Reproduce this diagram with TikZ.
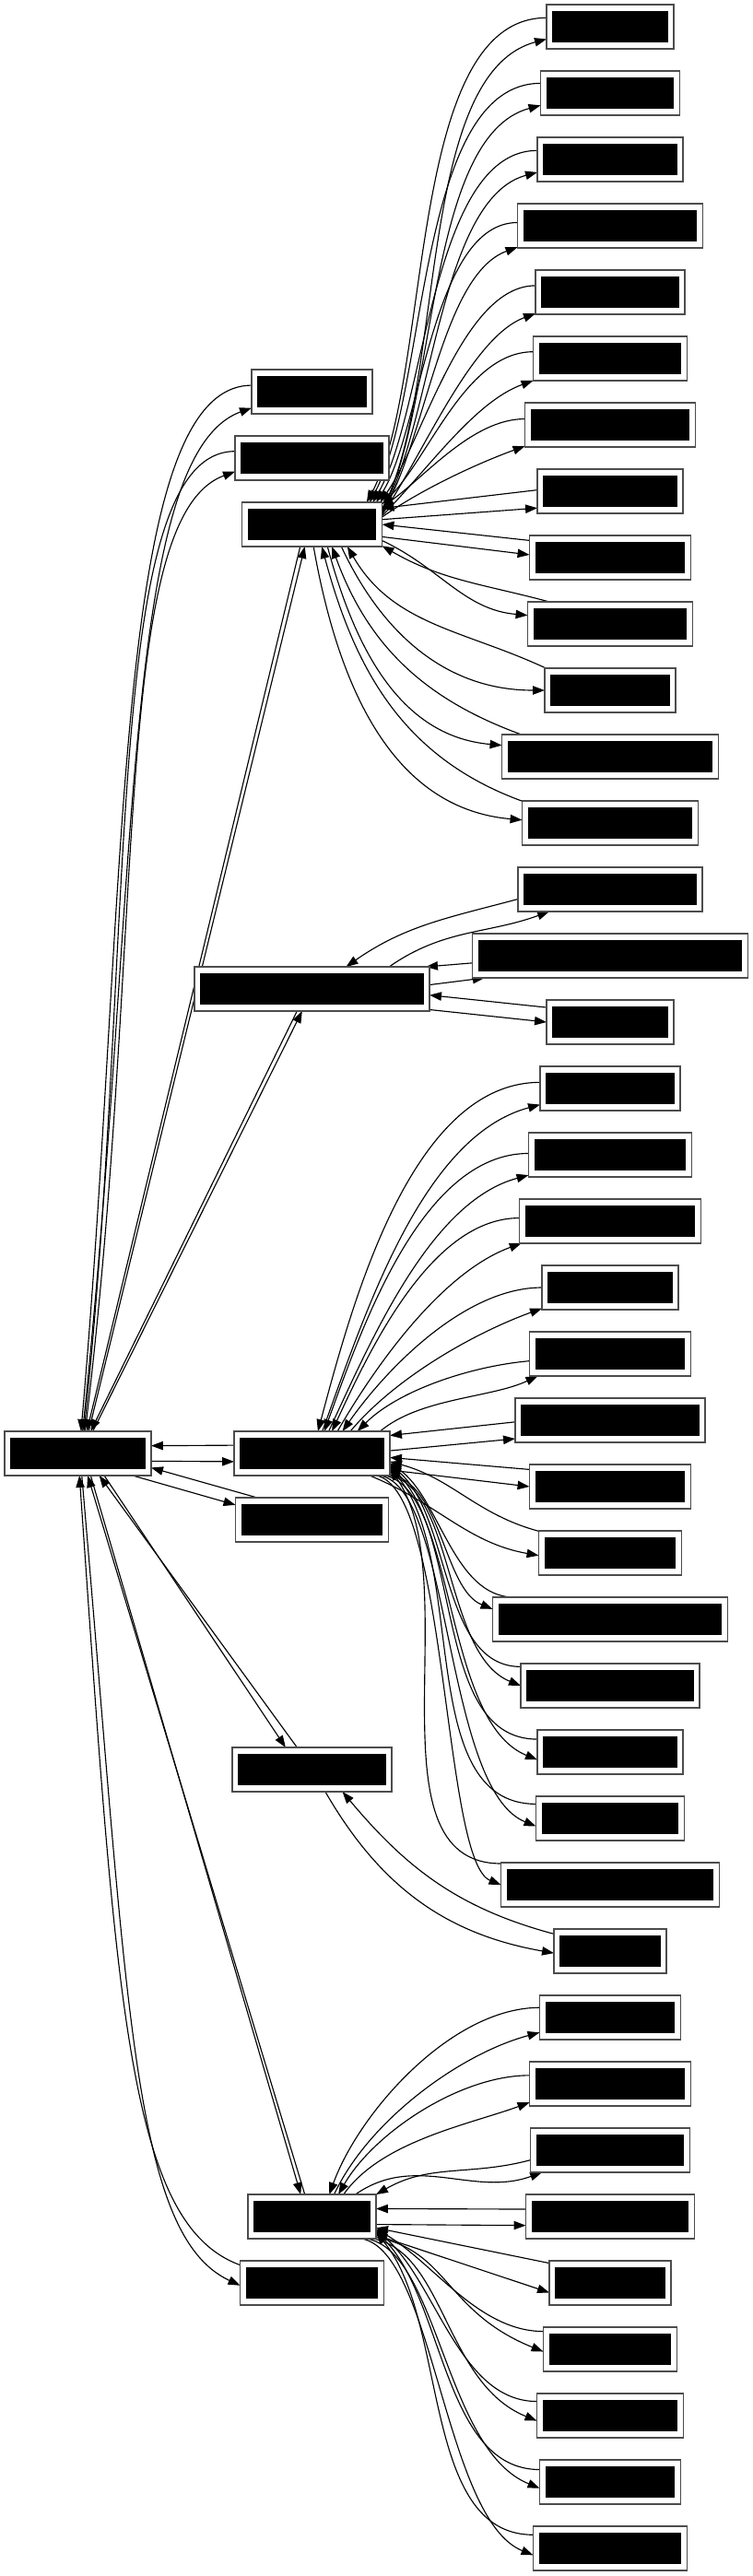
\documentclass[tikz,border=0pt]{standalone}
\usetikzlibrary{arrows.meta}
\tikzset{
    ITEM_BOX/.style={shape=rectangle, draw=black!70, line width=0.55pt,
        fill=white, minimum height=0.66667cm, inner sep=0mm, outer sep=0mm,
        path picture={\fill[black]
            ([shift={(0.09cm,-0.1cm)}]path picture bounding box.north west) rectangle
            ([shift={(-0.09cm,0.1cm)}]path picture bounding box.south east);}},
    EDGE/.style={draw=black, line width=0.45pt,
        -{Triangle[length=1.8mm, width=1.3mm]}}
}
\pgfdeclarelayer{edgelayer}
\pgfdeclarelayer{nodelayer}
\pgfsetlayers{edgelayer,nodelayer,main}
\begin{document}
\begin{tikzpicture}
    \useasboundingbox (0,0) rectangle (11.33333,-38.81944);
    \begin{pgfonlayer}{nodelayer}
        \node [ITEM_BOX, minimum width=2.20833cm] (1) at (1.17361, -21.90278) {};
        \node [ITEM_BOX, minimum width=1.81944cm] (2) at (4.70139, -5.90278) {};
        \node [ITEM_BOX, minimum width=2.31944cm] (3) at (4.70139, -6.90278) {};
        \node [ITEM_BOX, minimum width=2.11111cm] (4) at (4.70139, -7.90278) {};
        \node [ITEM_BOX, minimum width=3.54167cm] (5) at (4.70139, -14.90278) {};
        \node [ITEM_BOX, minimum width=2.34722cm] (6) at (4.70139, -21.90278) {};
        \node [ITEM_BOX, minimum width=2.30556cm] (7) at (4.70139, -22.90278) {};
        \node [ITEM_BOX, minimum width=2.40278cm] (8) at (4.70139, -26.66667) {};
        \node [ITEM_BOX, minimum width=1.93056cm] (9) at (4.70139, -33.40278) {};
        \node [ITEM_BOX, minimum width=2.16667cm] (10) at (4.70139, -34.40278) {};
        \node [ITEM_BOX, minimum width=1.91667cm] (11) at (9.19444, -0.40278) {};
        \node [ITEM_BOX, minimum width=2.09722cm] (12) at (9.19444, -1.40278) {};
        \node [ITEM_BOX, minimum width=2.19444cm] (13) at (9.19444, -2.40278) {};
        \node [ITEM_BOX, minimum width=2.79167cm] (14) at (9.19444, -3.40278) {};
        \node [ITEM_BOX, minimum width=2.25000cm] (15) at (9.19444, -4.40278) {};
        \node [ITEM_BOX, minimum width=2.31944cm] (16) at (9.19444, -5.40278) {};
        \node [ITEM_BOX, minimum width=2.56944cm] (17) at (9.19444, -6.40278) {};
        \node [ITEM_BOX, minimum width=2.19444cm] (18) at (9.19444, -7.40278) {};
        \node [ITEM_BOX, minimum width=2.43056cm] (19) at (9.19444, -8.40278) {};
        \node [ITEM_BOX, minimum width=2.48611cm] (20) at (9.19444, -9.40278) {};
        \node [ITEM_BOX, minimum width=1.97222cm] (21) at (9.19444, -10.40278) {};
        \node [ITEM_BOX, minimum width=3.26389cm] (22) at (9.19444, -11.40278) {};
        \node [ITEM_BOX, minimum width=2.65278cm] (23) at (9.19444, -12.40278) {};
        \node [ITEM_BOX, minimum width=2.77778cm] (24) at (9.19444, -13.40278) {};
        \node [ITEM_BOX, minimum width=4.15278cm] (25) at (9.19444, -14.40278) {};
        \node [ITEM_BOX, minimum width=1.91667cm] (26) at (9.19444, -15.40278) {};
        \node [ITEM_BOX, minimum width=2.11111cm] (27) at (9.19444, -16.40278) {};
        \node [ITEM_BOX, minimum width=2.45833cm] (28) at (9.19444, -17.40278) {};
        \node [ITEM_BOX, minimum width=2.73611cm] (29) at (9.19444, -18.40278) {};
        \node [ITEM_BOX, minimum width=2.05556cm] (30) at (9.19444, -19.40278) {};
        \node [ITEM_BOX, minimum width=2.43056cm] (31) at (9.19444, -20.40278) {};
        \node [ITEM_BOX, minimum width=2.86111cm] (32) at (9.19444, -21.40278) {};
        \node [ITEM_BOX, minimum width=2.43056cm] (33) at (9.19444, -22.40278) {};
        \node [ITEM_BOX, minimum width=2.15278cm] (34) at (9.19444, -23.40278) {};
        \node [ITEM_BOX, minimum width=3.54167cm] (35) at (9.19444, -24.40278) {};
        \node [ITEM_BOX, minimum width=2.69444cm] (36) at (9.19444, -25.40278) {};
        \node [ITEM_BOX, minimum width=2.19444cm] (37) at (9.19444, -26.40278) {};
        \node [ITEM_BOX, minimum width=2.23611cm] (38) at (9.19444, -27.40278) {};
        \node [ITEM_BOX, minimum width=3.29167cm] (39) at (9.19444, -28.40278) {};
        \node [ITEM_BOX, minimum width=1.69444cm] (40) at (9.19444, -29.40278) {};
        \node [ITEM_BOX, minimum width=2.12500cm] (41) at (9.19444, -30.40278) {};
        \node [ITEM_BOX, minimum width=2.43056cm] (42) at (9.19444, -31.40278) {};
        \node [ITEM_BOX, minimum width=2.40278cm] (43) at (9.19444, -32.40278) {};
        \node [ITEM_BOX, minimum width=2.54167cm] (44) at (9.19444, -33.40278) {};
        \node [ITEM_BOX, minimum width=1.83333cm] (45) at (9.19444, -34.40278) {};
        \node [ITEM_BOX, minimum width=2.01389cm] (46) at (9.19444, -35.40278) {};
        \node [ITEM_BOX, minimum width=2.20833cm] (47) at (9.19444, -36.40278) {};
        \node [ITEM_BOX, minimum width=2.12500cm] (48) at (9.19444, -37.40278) {};
        \node [ITEM_BOX, minimum width=2.31944cm] (49) at (9.19444, -38.40278) {};
    \end{pgfonlayer}
    \begin{pgfonlayer}{edgelayer}
        % root
        \draw[EDGE] (2.174) to[out=180, in=85, out distance=2.1cm, in distance=8.3cm] (1.82);
        \draw[EDGE] (1.78) to[out=84, in=200, out distance=8.3cm, in distance=2.1cm] (2.195);
        \draw[EDGE] (3.175) to[out=180, in=84, out distance=2cm, in distance=7.6cm] (1.75);
        \draw[EDGE] (1.72) to[out=83, in=200, out distance=7.6cm, in distance=2cm] (3.190);
        \draw[EDGE] (4.-118) to (1.68);
        \draw[EDGE] (1.64) to (4.-108);
        \draw[EDGE] (5.-124) to (1.60);
        \draw[EDGE] (1.56) to (5.-114);
        \draw[EDGE] (6.174) to (1.6);
        \draw[EDGE] (1.-6) to (6.186);
        \draw[EDGE] (7.158) to (1.-11);
        \draw[EDGE] (1.-22) to (7.169);
        \draw[EDGE] (8.124) to (1.-46);
        \draw[EDGE] (1.-40) to (8.140);
        \draw[EDGE] (9.108) to (1.-66);
        \draw[EDGE] (1.-60) to (9.117);
        \draw[EDGE] (10.166) to[out=160, in=-86, out distance=1.8cm, in distance=8cm] (1.-86);
        \draw[EDGE] (1.-80) to[out=-85, in=155, out distance=8cm, in distance=1.8cm] (10.182);
        % top hub
        \draw[EDGE] (11.172) to[out=180, in=62, looseness=0.7] (4.22);
        \draw[EDGE] (4.12) to[out=62, in=195, looseness=0.7] (11.191);
        \draw[EDGE] (12.172) to[out=180, in=62, looseness=0.7] (4.21);
        \draw[EDGE] (4.11) to[out=62, in=195, looseness=0.7] (12.190);
        \draw[EDGE] (13.173) to[out=180, in=60, looseness=0.7] (4.20);
        \draw[EDGE] (4.10) to[out=60, in=195, looseness=0.7] (13.190);
        \draw[EDGE] (14.178) to[out=180, in=58, looseness=0.7] (4.19);
        \draw[EDGE] (4.9) to[out=58, in=200, looseness=0.7] (14.193);
        \draw[EDGE] (15.175) to[out=180, in=55, looseness=0.7] (4.18);
        \draw[EDGE] (4.8) to[out=55, in=200, looseness=0.7] (15.196);
        \draw[EDGE] (16.175) to[out=180, in=45, looseness=0.8] (4.16);
        \draw[EDGE] (4.7) to[out=45, in=200, looseness=0.8] (16.196);
        \draw[EDGE] (17.176) to[out=180, in=35, looseness=0.8] (4.14);
        \draw[EDGE] (4.6) to[out=35, in=200, looseness=0.8] (17.194);
        \draw[EDGE] (18.179) to (4.13);
        \draw[EDGE] (4.4) to (18.193);
        \draw[EDGE] (19.168) to (4.0);
        \draw[EDGE] (4.-10) to (19.178);
        \draw[EDGE] (20.160) to[out=165, in=-30] (4.-17);
        \draw[EDGE] (4.-13) to[out=-25, in=175] (20.174);
        \draw[EDGE] (21.161) to[out=155, in=-60] (4.-32);
        \draw[EDGE] (4.-37) to[out=-65, in=180] (21.180);
        \draw[EDGE] (22.166) to[out=160, in=-70] (4.-48);
        \draw[EDGE] (4.-55) to[out=-75, in=175] (22.174);
        \draw[EDGE] (23.166) to[out=160, in=-75] (4.-66);
        \draw[EDGE] (4.-86) to[out=-80, in=175] (23.178);
        % second hub
        \draw[EDGE] (24.186) to[out=195, in=35] (5.33);
        \draw[EDGE] (5.16) to[out=35, in=200] (24.200);
        \draw[EDGE] (25.183) to (5.11);
        \draw[EDGE] (5.2) to (25.190);
        \draw[EDGE] (26.167) to (5.-3);
        \draw[EDGE] (5.-10) to (26.180);
        % middle hub
        \draw[EDGE] (27.175) to[out=180, in=75, looseness=0.8] (6.75);
        \draw[EDGE] (6.65) to[out=70, in=195, looseness=0.8] (27.193);
        \draw[EDGE] (28.179) to[out=180, in=70, looseness=0.8] (6.61);
        \draw[EDGE] (6.53) to[out=65, in=195, looseness=0.8] (28.194);
        \draw[EDGE] (29.178) to[out=180, in=65, looseness=0.8] (6.48);
        \draw[EDGE] (6.41) to[out=60, in=200, looseness=0.8] (29.194);
        \draw[EDGE] (30.180) to[out=180, in=55, looseness=0.8] (6.36);
        \draw[EDGE] (6.30) to[out=50, in=200, looseness=0.8] (30.197);
        \draw[EDGE] (31.185) to[out=185, in=45, looseness=0.8] (6.26);
        \draw[EDGE] (6.18) to[out=40, in=205, looseness=0.8] (31.197);
        \draw[EDGE] (32.181) to (6.13);
        \draw[EDGE] (6.2) to (32.191);
        \draw[EDGE] (33.168) to (6.-3);
        \draw[EDGE] (6.-12) to (33.180);
        \draw[EDGE] (34.163) to[out=165, in=-15] (6.-6);
        \draw[EDGE] (6.-21) to[out=-22, in=170] (34.182);
        \draw[EDGE] (35.167) to[out=180, in=-35, looseness=0.85] (6.-7);
        \draw[EDGE] (6.-15) to[out=-10, in=158, out distance=0.8cm, in distance=0.8cm] (35.175);
        \draw[EDGE] (36.168) to[out=180, in=-40, looseness=0.85] (6.-8);
        \draw[EDGE] (6.-16) to[out=-10, in=158, out distance=1cm, in distance=1.25cm] (36.180);
        \draw[EDGE] (37.170) to[out=180, in=-45, looseness=0.85] (6.-9);
        \draw[EDGE] (6.-17) to[out=-10, in=158, out distance=1.1cm, in distance=1.55cm] (37.186);
        \draw[EDGE] (38.169) to[out=180, in=-50, looseness=0.85] (6.-10);
        \draw[EDGE] (6.-18) to[out=-10, in=158, out distance=1.1cm, in distance=1.5cm] (38.186);
        \draw[EDGE] (39.169) to[out=180, in=-55, looseness=0.85] (6.-11);
        \draw[EDGE] (6.-19) to[out=-10, in=158, out distance=1.1cm, in distance=0.95cm] (39.180);
        % lone pair
        \draw[EDGE] (40.163) to[out=165, in=-50] (8.-36);
        \draw[EDGE] (8.-59) to[out=-60, in=170] (40.182);
        % bottom hub
        \draw[EDGE] (41.172) to[out=180, in=70, looseness=0.8] (9.52);
        \draw[EDGE] (9.45) to[out=65, in=195, looseness=0.8] (41.192);
        \draw[EDGE] (42.174) to[out=180, in=60, looseness=0.8] (9.40);
        \draw[EDGE] (9.35) to[out=55, in=200, looseness=0.8] (42.193);
        \draw[EDGE] (43.187) to[out=195, in=30] (9.19);
        \draw[EDGE] (9.27) to[out=35, in=200] (43.198);
        \draw[EDGE] (44.175) to (9.7);
        \draw[EDGE] (9.-7) to (44.186);
        \draw[EDGE] (45.162) to (9.-10);
        \draw[EDGE] (9.-16) to (45.189);
        \draw[EDGE] (46.165) to[out=180, in=-30, looseness=0.85] (9.-11);
        \draw[EDGE] (9.-18) to[out=-10, in=158, out distance=1.1cm, in distance=1.6cm] (46.182);
        \draw[EDGE] (47.169) to[out=180, in=-40, looseness=0.85] (9.-12);
        \draw[EDGE] (9.-20) to[out=-10, in=158, out distance=1.1cm, in distance=1.5cm] (47.184);
        \draw[EDGE] (48.170) to[out=180, in=-45, looseness=0.85] (9.-13);
        \draw[EDGE] (9.-22) to[out=-10, in=158, out distance=1.1cm, in distance=1.55cm] (48.185);
        \draw[EDGE] (49.170) to[out=180, in=-50, looseness=0.85] (9.-14);
        \draw[EDGE] (9.-24) to[out=-10, in=158, out distance=1.1cm, in distance=1.45cm] (49.185);
    \end{pgfonlayer}
\end{tikzpicture}
\end{document}
